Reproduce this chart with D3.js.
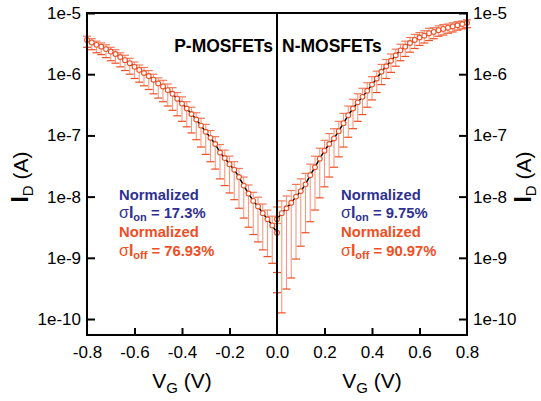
<!DOCTYPE html>
<html><head><meta charset="utf-8">
<script src="https://cdn.jsdelivr.net/npm/d3@7"></script>
<style>body{margin:0;background:#fff}svg{font-family:"Liberation Sans",Arial,sans-serif}</style>
</head><body><div id="c"></div>
<script>
// Gate voltage (V), step 0.02
const pVg = d3.range(41).map(i => -0.8 + i * 0.02);
const nVg = d3.range(41).map(i => i * 0.02);
// log10 of mean drain current I_D (A)
const pLogId = [-5.44,-5.48,-5.52,-5.55,-5.59,-5.63,-5.67,-5.72,-5.77,-5.82,-5.88,-5.93,-5.98,-6.03,-6.09,-6.15,-6.20,-6.26,-6.32,-6.40,-6.48,-6.56,-6.65,-6.74,-6.84,-6.94,-7.04,-7.14,-7.28,-7.37,-7.47,-7.56,-7.68,-7.82,-7.95,-8.07,-8.16,-8.27,-8.37,-8.47,-8.59];
const nLogId = [-8.37,-8.27,-8.19,-8.10,-8.00,-7.91,-7.80,-7.65,-7.52,-7.38,-7.25,-7.14,-7.05,-6.93,-6.80,-6.67,-6.56,-6.46,-6.37,-6.27,-6.17,-6.07,-5.96,-5.87,-5.78,-5.69,-5.61,-5.55,-5.49,-5.44,-5.40,-5.37,-5.33,-5.31,-5.28,-5.26,-5.24,-5.22,-5.20,-5.18,-5.16];
// error bar extents in decades below / above the mean
const pErrLow = [0.12,0.12,0.13,0.13,0.14,0.15,0.15,0.16,0.17,0.18,0.19,0.20,0.21,0.22,0.23,0.24,0.25,0.26,0.27,0.28,0.29,0.30,0.31,0.33,0.35,0.37,0.39,0.41,0.43,0.45,0.47,0.49,0.51,0.53,0.55,0.55,0.58,0.60,0.61,0.62,0.65];
const pErrHigh = [0.06,0.06,0.06,0.06,0.07,0.07,0.07,0.07,0.08,0.08,0.08,0.08,0.09,0.09,0.09,0.09,0.10,0.10,0.10,0.10,0.11,0.11,0.11,0.11,0.12,0.12,0.12,0.12,0.13,0.13,0.13,0.13,0.14,0.14,0.14,0.14,0.15,0.15,0.15,0.15,0.15];
const nErrLow = [1.20,1.63,1.32,1.23,1.02,0.90,0.79,0.76,0.70,0.64,0.59,0.54,0.47,0.42,0.39,0.36,0.33,0.31,0.29,0.27,0.25,0.23,0.21,0.20,0.19,0.18,0.17,0.16,0.15,0.14,0.13,0.12,0.12,0.11,0.10,0.10,0.09,0.09,0.08,0.08,0.08];
const nErrHigh = [0.20,0.20,0.20,0.20,0.20,0.20,0.18,0.18,0.18,0.17,0.17,0.17,0.16,0.16,0.16,0.15,0.15,0.14,0.14,0.13,0.13,0.12,0.12,0.11,0.11,0.10,0.10,0.09,0.09,0.09,0.08,0.08,0.08,0.07,0.07,0.07,0.06,0.06,0.06,0.05,0.05];
const xTicks = [-0.8,-0.6,-0.4,-0.2,0.0,0.2,0.4,0.6,0.8];
const yTicks = [1e-10,1e-9,1e-8,1e-7,1e-6,1e-5];
const yTickLabels = ["1e-10","1e-9","1e-8","1e-7","1e-6","1e-5"];
const pLabel = "P-MOSFETs", nLabel = "N-MOSFETs";
const pStats = {on: "17.3%", off: "76.93%"};
const nStats = {on: "9.75%", off: "90.97%"};

const W = 541, H = 401;
const L = 87, R = 467, T = 13, B = 335;
const svg = d3.select("#c").append("svg").attr("width", W).attr("height", H);
const x = d3.scaleLinear().domain([-0.8, 0.8]).range([L, R]);
const y = d3.scaleLog().domain([Math.pow(10, -10.261), 1e-5]).range([B, T]);

const cRed = "#f04e23", cLight = "#f59a80", cBlue = "#2e3192";

function series(vg, logId, lo, hi) {
  return vg.map((v, i) => ({v, m: Math.pow(10, logId[i]), lo: Math.pow(10, logId[i] - lo[i]), hi: Math.pow(10, logId[i] + hi[i])}));
}
const P = series(pVg, pLogId, pErrLow, pErrHigh);
const N = series(nVg, nLogId, nErrLow, nErrHigh);

const g = svg.append("g");
[P, N].forEach(S => {
  const eb = g.append("g");
  eb.selectAll("line.v").data(S).join("line")
    .attr("x1", d => x(d.v)).attr("x2", d => x(d.v))
    .attr("y1", d => y(d.lo)).attr("y2", d => y(d.hi))
    .attr("stroke", cLight).attr("stroke-width", 1.1);
  ["lo", "hi"].forEach(k => {
    eb.selectAll("line.c" + k).data(S).join("line")
      .attr("x1", d => x(d.v) - 4).attr("x2", d => x(d.v) + 4)
      .attr("y1", d => y(d[k])).attr("y2", d => y(d[k]))
      .attr("stroke", k === "lo" ? cRed : "#f37a5a").attr("stroke-width", 1.2);
  });
});
const line = d3.line().x(d => x(d.v)).y(d => y(d.m));
[P, N].forEach(S => {
  g.append("path").attr("d", line(S)).attr("fill", "none").attr("stroke", "#000").attr("stroke-width", 1.5);
});
[P, N].forEach(S => {
  g.selectAll(null).data(S).join("circle")
    .attr("cx", d => x(d.v)).attr("cy", d => y(d.m)).attr("r", 2.4)
    .attr("fill", "#fff").attr("stroke", cRed).attr("stroke-width", 1.1);
});

// axes
const ax = svg.append("g");
ax.append("g").attr("transform", `translate(0,${B})`)
  .call(d3.axisBottom(x).tickValues(xTicks).tickFormat(d => d.toFixed(1)).tickSizeInner(-7).tickSizeOuter(0).tickPadding(11));
ax.append("g").attr("transform", `translate(${L},0)`)
  .call(d3.axisLeft(y).tickValues(yTicks).tickFormat((d, i) => yTickLabels[i]).tickSizeInner(-8).tickSizeOuter(0).tickPadding(6));
ax.append("g").attr("transform", `translate(${R},0)`)
  .call(d3.axisRight(y).tickValues(yTicks).tickFormat((d, i) => yTickLabels[i]).tickSizeInner(-8).tickSizeOuter(0).tickPadding(6));
ax.selectAll(".domain").remove();
ax.selectAll(".tick line").attr("stroke", "#000").attr("stroke-width", 2);
ax.selectAll(".tick text").attr("font-size", 17).attr("fill", "#000").attr("font-family", "'Liberation Sans',Arial,sans-serif");
ax.selectAll(".tick").filter(d => d === 0.8 || d === -0.8 || d === 0).select("line").remove();
svg.append("rect").attr("x", L).attr("y", T).attr("width", R - L).attr("height", B - T)
  .attr("fill", "none").attr("stroke", "#000").attr("stroke-width", 2);
svg.append("line").attr("x1", x(0)).attr("x2", x(0)).attr("y1", T).attr("y2", B).attr("stroke", "#000").attr("stroke-width", 2);

// labels
svg.append("text").attr("x", x(0) - 4).attr("y", 52).attr("text-anchor", "end")
  .attr("font-weight", "bold").attr("font-size", 17.5).text(pLabel);
svg.append("text").attr("x", x(0) + 5).attr("y", 52).attr("text-anchor", "start")
  .attr("font-weight", "bold").attr("font-size", 17.5).text(nLabel);

function stats(x0, s) {
  const t = svg.append("g").attr("font-weight", "bold").attr("font-size", 14.8);
  t.append("text").attr("x", x0).attr("y", 200).attr("fill", cBlue).text("Normalized");
  const a = t.append("text").attr("x", x0).attr("y", 218).attr("fill", cBlue);
  a.append("tspan").attr("font-weight", "normal").attr("font-size", 16).text("σ");
  a.append("tspan").attr("font-size", 16).text("I");
  a.append("tspan").attr("font-size", 11).attr("dy", 3).text("on");
  a.append("tspan").attr("dy", -3).text(" = " + s.on);
  t.append("text").attr("x", x0).attr("y", 237).attr("fill", cRed).text("Normalized");
  const b = t.append("text").attr("x", x0).attr("y", 256).attr("fill", cRed);
  b.append("tspan").attr("font-weight", "normal").attr("font-size", 16).text("σ");
  b.append("tspan").attr("font-size", 16).text("I");
  b.append("tspan").attr("font-size", 11).attr("dy", 3).text("off");
  b.append("tspan").attr("dy", -3).text(" = " + s.off);
}
stats(119, pStats);
stats(341, nStats);

function vgLabel(cx) {
  const t = svg.append("text").attr("x", cx).attr("y", 388).attr("text-anchor", "middle").attr("font-size", 21);
  t.append("tspan").text("V");
  t.append("tspan").attr("font-size", 15).attr("dy", 5).text("G");
  t.append("tspan").attr("dy", -5).text(" (V)");
}
vgLabel((L + x(0)) / 2);
vgLabel((x(0) + R) / 2);

function idLabel(cx) {
  const t = svg.append("text").attr("transform", `translate(${cx},${(T + B) / 2 + 3}) rotate(-90)`)
    .attr("text-anchor", "middle").attr("font-size", 21);
  t.append("tspan").attr("font-weight", "bold").attr("font-size", 23).text("I");
  t.append("tspan").attr("font-size", 15).attr("dy", 5).text("D");
  t.append("tspan").attr("dy", -5).text(" (A)");
}
idLabel(28);
idLabel(531);
</script></body></html>
